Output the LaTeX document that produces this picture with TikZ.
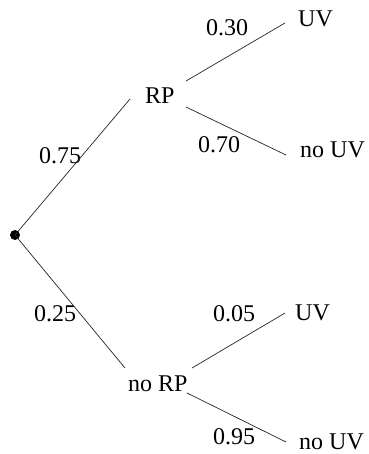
\documentclass[tikz,border=0pt]{standalone}
\usepackage{fontspec}
\setmainfont{Liberation Serif}
\begin{document}
\begin{tikzpicture}[x=1pt,y=-1pt,
  lbl/.style={anchor=base west,inner sep=0pt,font=\fontsize{24}{28}\selectfont},
  branch/.style={line width=0.7pt,draw=black!85}]
\path[use as bounding box,fill=white] (0,0) rectangle (368,454);
\clip (0,0) rectangle (368,454);
\node[circle,fill=black,inner sep=0pt,minimum size=10pt] (root) at (15,235) {};
\node[lbl] (UVa) at (298,27) {UV};
\node[lbl] (RP) at (145,104) {RP};
\node[lbl] (p30) at (206,36) {0.30};
\node[lbl] (p70) at (198,153) {0.70};
\node[lbl] (nUVa) at (300,158) {no UV};
\node[lbl] (p75) at (39,164) {0.75};
\node[lbl] (p25) at (34,321) {0.25};
\node[lbl] (p05) at (213,321) {0.05};
\node[lbl] (UVb) at (295,320) {UV};
\node[lbl] (nRP) at (128,391) {no RP};
\node[lbl] (p95) at (213,444) {0.95};
\node[lbl] (nUVb) at (299,449) {no UV};
\draw[branch] (root.center) -- ([shift={(-15,-5)}]RP.base west);
\draw[branch] (root.center) -- ([shift={(-3,-23)}]nRP.base west);
\draw[branch] ([shift={(41,-23)}]RP.base west) -- ([shift={(-13,-4)}]UVa.base west);
\draw[branch] ([shift={(41,3)}]RP.base west) -- ([shift={(-14,-3)}]nUVa.base west);
\draw[branch] ([shift={(64,-23)}]nRP.base west) -- ([shift={(-10,-7)}]UVb.base west);
\draw[branch] ([shift={(59,2)}]nRP.base west) -- ([shift={(-13,-7)}]nUVb.base west);
\end{tikzpicture}
\end{document}
